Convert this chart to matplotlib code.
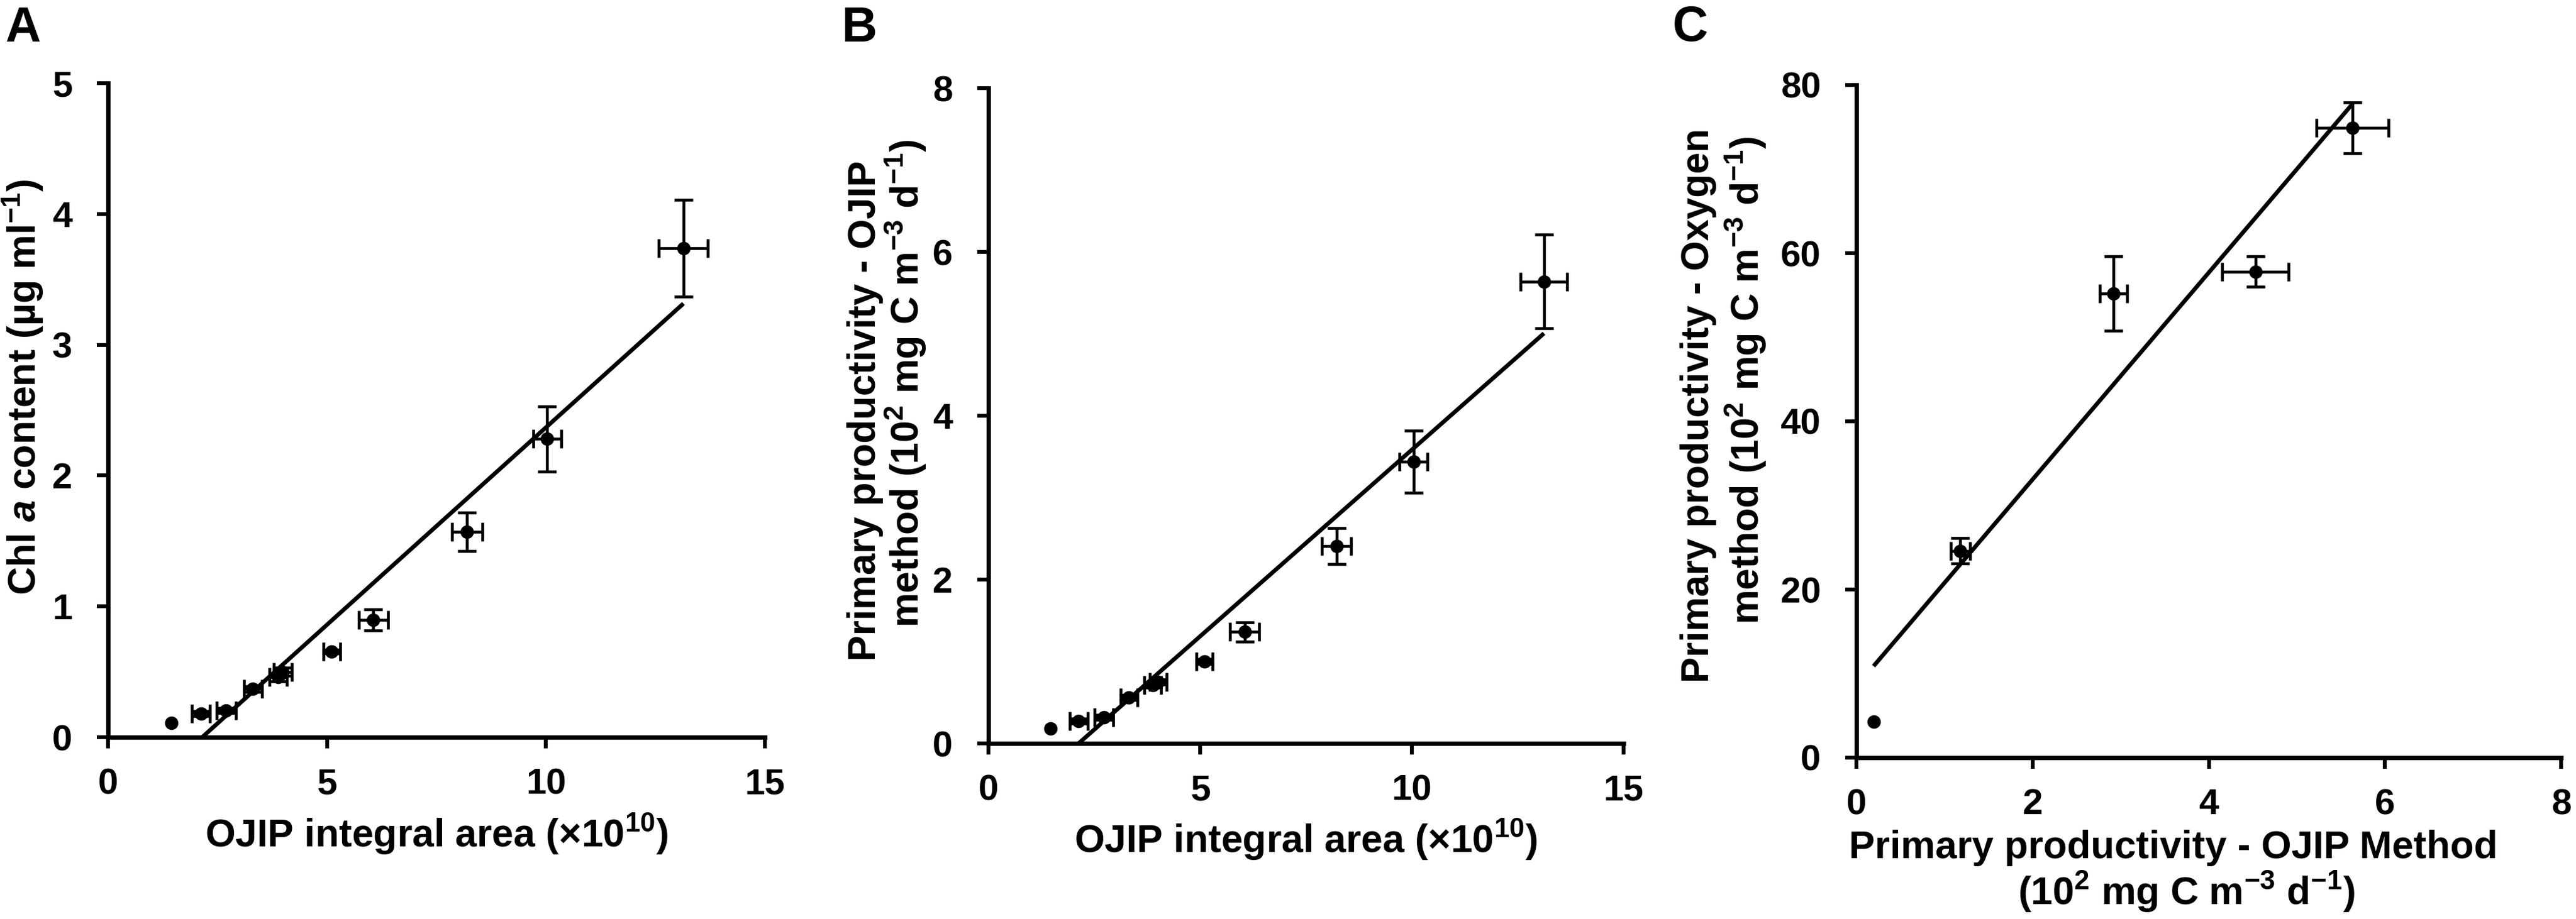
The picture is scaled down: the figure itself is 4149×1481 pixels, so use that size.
import matplotlib
matplotlib.use('Agg')
import matplotlib.pyplot as plt
import numpy as np

plt.rcParams['font.family'] = ['Liberation Sans', 'DejaVu Sans']
plt.rcParams['font.weight'] = 'bold'
plt.rcParams['mathtext.fontset'] = 'custom'
plt.rcParams['mathtext.rm'] = 'Liberation Sans:bold'
plt.rcParams['mathtext.it'] = 'Liberation Sans:italic:bold'
plt.rcParams['mathtext.bf'] = 'Liberation Sans:bold'
plt.rcParams['mathtext.default'] = 'rm'

# Panel A: OJIP integral area vs Chl a
a_x = [1.44, 2.12, 2.70, 3.31, 3.88, 3.99, 5.11, 6.06, 8.20, 10.03, 13.14]
a_y = [0.11, 0.18, 0.205, 0.368, 0.458, 0.50, 0.656, 0.896, 1.57, 2.28, 3.74]
a_xerr = [0.0, 0.20, 0.22, 0.20, 0.20, 0.20, 0.19, 0.33, 0.35, 0.32, 0.56]
a_yerr = [0.0, 0.02, 0.02, 0.02, 0.03, 0.03, 0.015, 0.079, 0.145, 0.25, 0.37]
a_fit = (0.3017, -0.649)

# Panel B: OJIP integral area vs primary productivity (OJIP)
b_x = [1.46, 2.13, 2.72, 3.32, 3.88, 4.01, 5.10, 6.05, 8.22, 10.04, 13.12]
b_y = [0.18, 0.27, 0.32, 0.56, 0.71, 0.75, 1.00, 1.36, 2.41, 3.44, 5.64]
b_xerr = [0.0, 0.21, 0.22, 0.20, 0.20, 0.20, 0.19, 0.34, 0.35, 0.33, 0.55]
b_yerr = [0.0, 0.03, 0.03, 0.03, 0.03, 0.03, 0.03, 0.12, 0.22, 0.38, 0.57]
b_fit = (0.4555, -0.970)

# Panel C: OJIP method vs oxygen method
c_x = [0.195, 1.18, 2.92, 4.53, 5.63]
c_y = [4.3, 24.6, 55.2, 57.8, 74.9]
c_xerr = [0.0, 0.11, 0.155, 0.375, 0.41]
c_yerr = [0.0, 1.5, 4.4, 1.8, 3.0]
c_fit = (12.3, 8.49)

W, H = 4149, 1481
fig = plt.figure(figsize=(W / 300, H / 300), dpi=300)


def box(l, t, r, b):
    return [l / W, 1 - b / H, (r - l) / W, (b - t) / H]


def put(x, y, s, **kw):
    kw.setdefault('fontsize', 15)
    kw.setdefault('fontweight', 'bold')
    fig.text(x / W, 1 - y / H, s, **kw)


def vput(x, y, s, **kw):
    put(x, y, s, rotation=90, rotation_mode='anchor', ha='left', va='baseline', **kw)


def no_zero(err):
    # points without error bars get NaN so no caps are drawn
    e = np.array(err, dtype=float)
    e[e == 0] = np.nan
    return e


def panel(rect, x, y, xe, ye, fit, xlim, ylim, xticks, yticks):
    ax = fig.add_axes(box(*rect))
    ax.errorbar(x, y, xerr=no_zero(xe), yerr=no_zero(ye), fmt='none',
                ecolor='black', elinewidth=1.1, capsize=3.5, capthick=1.1)
    ax.plot(x, y, 'o', color='black', ms=4.2)
    xs = np.array([min(x), max(x)])
    ax.plot(xs, fit[0] * xs + fit[1], color='black', lw=1.6,
            solid_capstyle='butt')
    ax.set_xlim(*xlim)
    ax.set_ylim(*ylim)
    ax.set_xticks(xticks)
    ax.set_yticks(yticks)
    for s in ['top', 'right']:
        ax.spines[s].set_visible(False)
    for s in ['left', 'bottom']:
        ax.spines[s].set_linewidth(1.7)
    ax.tick_params(direction='out', length=4.3, width=1.5, labelsize=14)
    ax.tick_params(axis='x', pad=7.5)
    ax.tick_params(axis='y', pad=9.5)
    return ax


panel((174, 134, 1232, 1188), a_x, a_y, a_xerr, a_yerr, a_fit,
      (0, 15), (0, 5), [0, 5, 10, 15], [0, 1, 2, 3, 4, 5])
panel((1592, 142, 2615, 1198), b_x, b_y, b_xerr, b_yerr, b_fit,
      (0, 15), (0, 8), [0, 5, 10, 15], [0, 2, 4, 6, 8])
panel((2990, 137, 4125, 1221), c_x, c_y, c_xerr, c_yerr, c_fit,
      (0, 8), (0, 80), [0, 2, 4, 6, 8], [0, 20, 40, 60, 80])

unit = r'(10$^{2}$ mg C m$^{-3}$ d$^{-1}$)'

# axis labels
put(703, 1365, r'OJIP integral area (×10$^{10}$)', ha='center', va='baseline')
vput(57, 959, r'Chl $\mathit{a}$ content (µg ml$^{-1}$)')

put(2103, 1374, r'OJIP integral area (×10$^{10}$)', ha='center', va='baseline')
vput(1410, 1065, 'Primary productivity - OJIP')
vput(1480, 1011, 'method ' + unit)

put(3500, 1383, 'Primary productivity - OJIP Method', ha='center', va='baseline')
put(3521, 1458, unit, ha='center', va='baseline')
vput(2752, 1100, 'Primary productivity - Oxygen')
vput(2833, 1006, 'method ' + unit)

# panel letters
put(8, 67, 'A', fontsize=19, ha='left', va='baseline')
put(1356, 67, 'B', fontsize=19, ha='left', va='baseline')
put(2694, 66, 'C', fontsize=19, ha='left', va='baseline')

fig.savefig('out.png', dpi=300)
